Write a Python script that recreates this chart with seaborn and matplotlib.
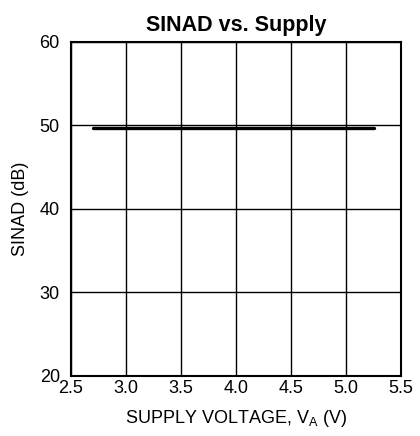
import matplotlib
matplotlib.use("Agg")
import matplotlib.pyplot as plt
import seaborn as sns
import pandas as pd

supply_voltage = [2.7, 3.0, 3.5, 4.0, 4.5, 5.0, 5.25]
sinad_db = [49.65, 49.65, 49.65, 49.65, 49.65, 49.65, 49.65]

x_ticks = [2.5, 3.0, 3.5, 4.0, 4.5, 5.0, 5.5]
y_ticks = [20, 30, 40, 50, 60]

sns.set_style("white")
plt.rcParams["font.family"] = ["Liberation Sans", "DejaVu Sans"]
plt.rcParams["text.color"] = "black"
plt.rcParams["axes.labelcolor"] = "black"

df = pd.DataFrame({"V": supply_voltage, "SINAD": sinad_db})

fig = plt.figure(figsize=(4.2, 4.36), dpi=100)
ax = fig.add_axes([0.169, 0.138, 0.786, 0.766])

sns.lineplot(data=df, x="V", y="SINAD", color="black", linewidth=2.4, ax=ax)

ax.set_xlim(2.5, 5.5)
ax.set_ylim(20, 60)
ax.set_xticks(x_ticks)
ax.set_xticklabels([f"{t:.1f}" for t in x_ticks])
ax.set_yticks(y_ticks)
ax.grid(True, color="black", linewidth=1)
ax.set_axisbelow(True)
for s in ax.spines.values():
    s.set_color("black")
    s.set_linewidth(1.5)
ax.tick_params(length=0, labelsize=13, colors="black")
ax.tick_params(axis="x", pad=3)
ax.tick_params(axis="y", pad=8)

ax.set_xlabel("SUPPLY VOLTAGE, V$_\\mathregular{A}$ (V)", fontsize=13, labelpad=8)
ax.set_ylabel("SINAD (dB)", fontsize=13, labelpad=8)
ax.set_title("SINAD vs. Supply", fontsize=15.5, fontweight="bold", pad=8)

fig.savefig("out.png", dpi=100)
